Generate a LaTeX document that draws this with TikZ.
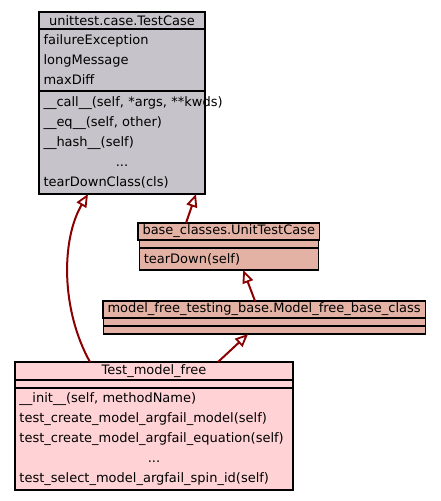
\documentclass[tikz,border=0pt]{standalone}
\usepackage{fontspec}
\setmainfont{DejaVu Sans}
\usetikzlibrary{arrows.meta,positioning}
\definecolor{basegray}{RGB}{198,196,202}
\definecolor{midsalmon}{RGB}{227,178,164}
\definecolor{leafpink}{RGB}{255,211,214}
\definecolor{inhred}{RGB}{139,0,0}

\begin{document}
\begin{tikzpicture}[x=1pt, y=-1pt,
  part/.style={draw=black, line width=1.2pt, outer sep=0pt, inner xsep=4.5pt, inner ysep=0pt, font=\fontsize{13}{20}\selectfont},
  head/.style={part, minimum height=17pt, anchor=north west},
  blank/.style={part, minimum height=8pt},
  body/.style={part, align=left},
  inh/.style={draw=inhred, line width=2pt, -{Triangle[open, length=13pt, width=11pt, line width=1.8pt]}}
]
\useasboundingbox (0,0) rectangle (441,501);

% unittest.case.TestCase
\node[head, fill=basegray, minimum width=166pt] (tc-head) at (39,12) {unittest.case.TestCase};
\node[body, fill=basegray, text width=157pt, minimum height=62pt, below=0pt of tc-head] (tc-attr)
  {failureException\\longMessage\\maxDiff};
\node[body, fill=basegray, text width=157pt, minimum height=103pt, below=0pt of tc-attr] (tc-meth)
  {\mbox{\_\_call\_\_(self, *args, **kwds)}\\\_\_eq\_\_(self, other)\\\_\_hash\_\_(self)\\\makebox[\linewidth]{...}\\tearDownClass(cls)};

% base_classes.UnitTestCase
\node[head, fill=midsalmon, minimum width=179pt] (utc-head) at (138,223) {base\_classes.UnitTestCase};
\node[blank, fill=midsalmon, minimum width=179pt, below=0pt of utc-head] (utc-blank) {};
\node[body, fill=midsalmon, text width=170pt, minimum height=22pt, below=0pt of utc-blank] (utc-meth) {tearDown(self)};

% model_free_testing_base.Model_free_base_class
\node[head, fill=midsalmon, minimum width=322pt] (mfb-head) at (103,301) {model\_free\_testing\_base.Model\_free\_base\_class};
\node[blank, fill=midsalmon, minimum width=322pt, below=0pt of mfb-head] (mfb-blank1) {};
\node[blank, fill=midsalmon, minimum width=322pt, below=0pt of mfb-blank1] (mfb-blank2) {};

% Test_model_free
\node[head, fill=leafpink, minimum width=278pt, minimum height=18pt] (tmf-head) at (15,362) {Test\_model\_free};
\node[blank, fill=leafpink, minimum width=278pt, below=0pt of tmf-head] (tmf-blank) {};
\node[body, fill=leafpink, text width=269pt, minimum height=102pt, below=0pt of tmf-blank] (tmf-meth)
  {\_\_init\_\_(self, methodName)\\test\_create\_model\_argfail\_model(self)\\test\_create\_model\_argfail\_equation(self)\\\makebox[\linewidth]{...}\\test\_select\_model\_argfail\_spin\_id(self)};

% inheritance
\draw[inh] ([xshift=75pt]tmf-head.north west) .. controls (61,310) and (61,240) .. ([xshift=49pt]tc-meth.south west);
\draw[inh] ([xshift=48pt]utc-head.north west) -- ([xshift=157pt]tc-meth.south west);
\draw[inh] ([xshift=152pt]mfb-head.north west) -- ([xshift=104pt]utc-meth.south west);
\draw[inh] ([xshift=203pt]tmf-head.north west) -- ([xshift=145pt]mfb-blank2.south west);
\end{tikzpicture}
\end{document}
